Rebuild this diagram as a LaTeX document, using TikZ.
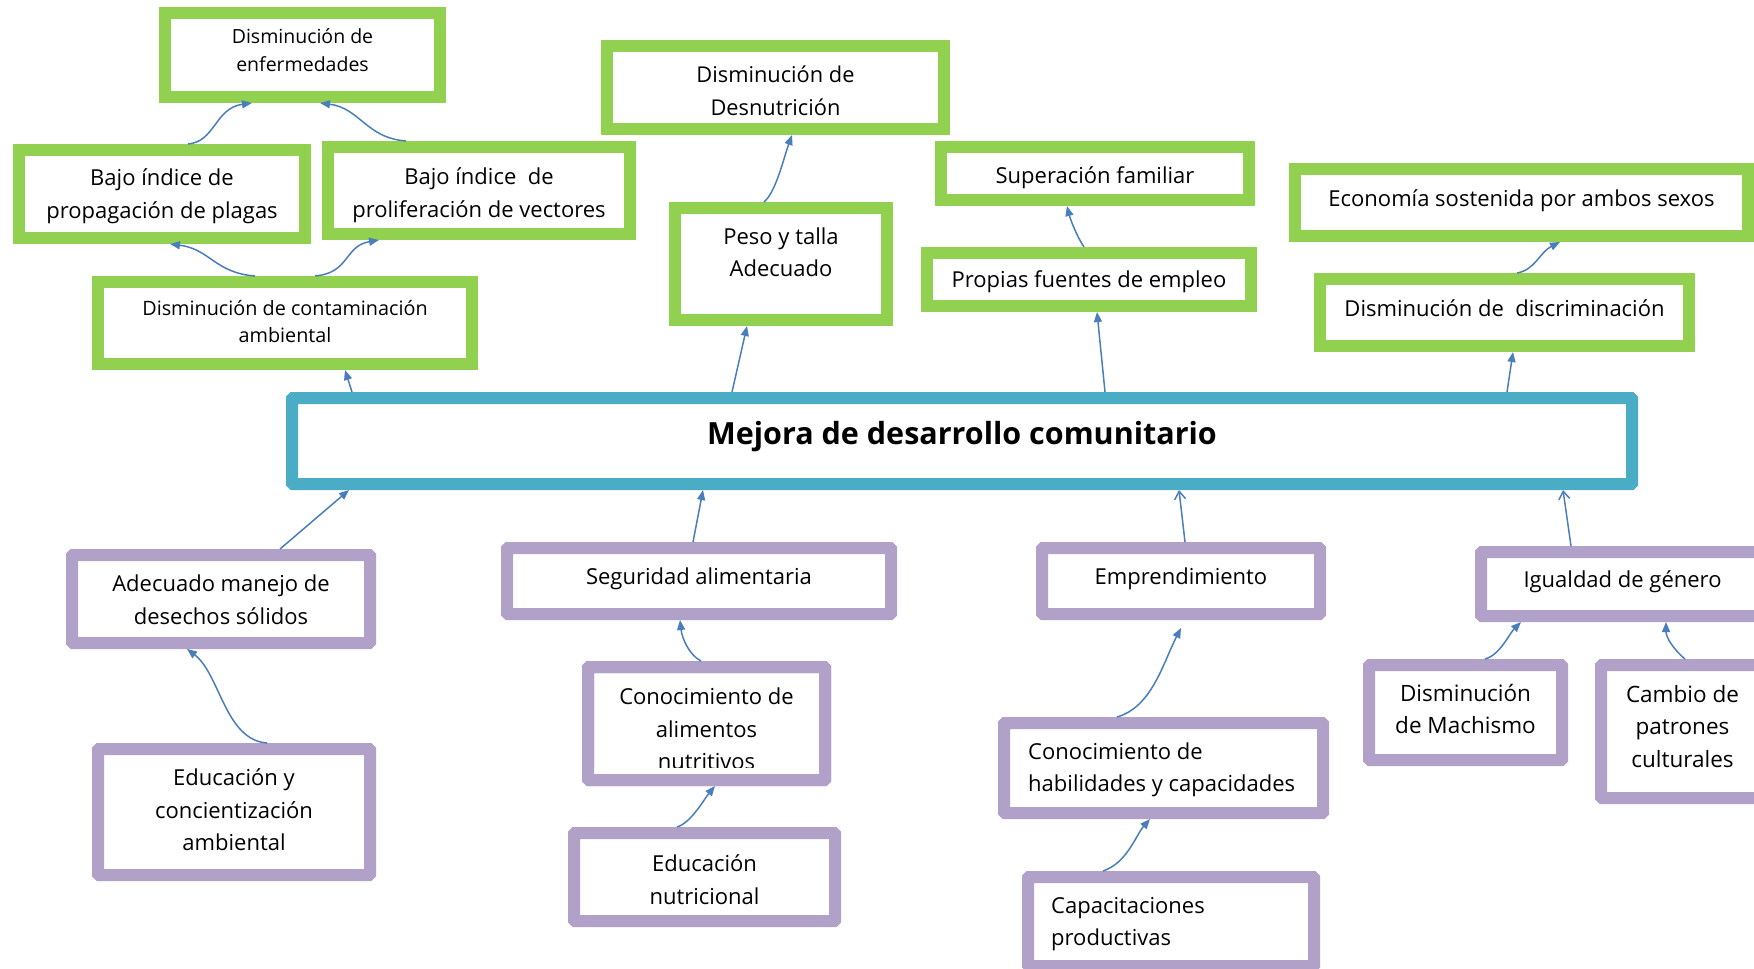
\documentclass[tikz,border=0pt]{standalone}
\usepackage{fontspec}
\setmainfont{Open Sans}
\usetikzlibrary{arrows.meta,calc}
\definecolor{gr}{HTML}{92D050}
\definecolor{pu}{HTML}{B1A0C7}
\definecolor{bl}{HTML}{4BACC6}
\definecolor{ar}{HTML}{4A7EBB}
\tikzset{
  box/.style={line width=12pt, fill=white, inner sep=0pt},
  gbox/.style={box, draw=gr},
  pbox/.style={box, draw=pu, rounded corners=1pt},
  cbox/.style={box, draw=bl, rounded corners=1pt},
  t/.style={font=\fontsize{22pt}{32.5pt}\selectfont, align=center, inner sep=0pt},
  arr/.style={draw=ar, line width=1.5pt, -{Triangle[length=10pt,width=8pt]}},
  barb/.style={draw=ar, line width=1.5pt, -{Straight Barb[length=8pt,width=11pt]}}
}
% #1 box style, #2 width, #3 height, #4 name, #5 centre, #6 text shift, #7 text style, #8 text
\newcommand{\mkbox}[8]{%
  \node[#1, minimum width=#2pt, minimum height=#3pt] (#4) at (#5) {};
  \node[t, #7] (#4t) at ($(#4.center)+(0,#6)$) {#8};}
\begin{document}
\begin{tikzpicture}[x=1pt,y=-1pt]
\useasboundingbox (0,0) rectangle (1754,969);
% green boxes (top)
\mkbox{gbox}{275}{84}{enf}{302.5,55}{-4.5}{font=\fontsize{19.5pt}{28pt}\selectfont}{Disminución de\\enfermedades}
\mkbox{gbox}{286}{88}{prop}{162,194}{2}{}{Bajo índice de\\propagación de plagas}
\mkbox{gbox}{302}{87}{prol}{479,190.5}{4.5}{}{Bajo índice~ de\\proliferación de vectores}
\mkbox{gbox}{374}{82}{cont}{285,323}{-1}{font=\fontsize{19.8pt}{27pt}\selectfont}{Disminución de contaminación\\ambiental}
\mkbox{gbox}{337}{83}{desn}{775.5,87.5}{3.4}{font=\fontsize{21.8pt}{32.5pt}\selectfont}{Disminución de\\Desnutrición}
\mkbox{gbox}{212}{112}{peso}{781,264}{-12}{}{Peso y talla\\Adecuado}
\mkbox{gbox}{308}{53}{sup}{1095,173.5}{4.5}{}{Superación familiar}
\mkbox{gbox}{324}{53}{fue}{1089,279.5}{2}{}{Propias fuentes de empleo}
\mkbox{gbox}{453}{67}{eco}{1521.5,202.5}{-2}{}{Economía sostenida por ambos sexos}
\mkbox{gbox}{369}{67}{disc}{1504.5,312.5}{-4.5}{}{Disminución de~ discriminación}
% central
\mkbox{cbox}{1340}{86}{cen}{962,441}{-4.5}{font=\fontsize{30.5pt}{34pt}\selectfont\bfseries}{Mejora de desarrollo comunitario}
% purple boxes (bottom)
\mkbox{pbox}{298}{88}{ade}{221,599}{0.5}{}{Adecuado manejo de\\desechos sólidos}
\mkbox{pbox}{272}{126}{edam}{234,812}{-2}{}{Educación y\\concientización\\ambiental}
\mkbox{pbox}{384}{66}{seg}{699,581}{-2}{}{Seguridad alimentaria}
\mkbox{pbox}{237}{113}{ca}{706.5,723.5}{5.5}{}{Conocimiento de\\alimentos\\nutritivos}
\fill[white] ($(ca.south west)+(12,-18)$) rectangle ($(ca.south east)+(-12,-12)$);
\draw[pu, line width=12pt, rounded corners=1pt] ($(ca.north west)+(6,6)$) rectangle ($(ca.south east)+(-6,-6)$);
\mkbox{pbox}{261}{88}{ednu}{704.5,877}{2.5}{}{Educación\\nutricional}
\mkbox{pbox}{278}{66}{emp}{1181,581}{-2}{}{Emprendimiento}
\node[pbox, minimum width=319pt, minimum height=90pt] (hab) at (1163.5,768) {};
\node[t, align=left, anchor=west] (habt) at ($(hab.west)+(30,2)$) {Conocimiento de\\habilidades y capacidades};
\node[pbox, minimum width=286pt, minimum height=89pt] (capa) at (1171,921.5) {};
\node[t, align=left, anchor=west] (capat) at ($(capa.west)+(29,2.5)$) {Capacitaciones\\productivas};
\mkbox{pbox}{283}{64}{igu}{1622.5,584}{-2}{}{Igualdad de género}
\mkbox{pbox}{193}{95}{mach}{1465.5,712.5}{-3.5}{font=\fontsize{22.5pt}{32.5pt}\selectfont}{Disminución\\de Machismo}
\mkbox{pbox}{163}{133}{camb}{1682.5,731.5}{-5}{font=\fontsize{22.5pt}{32.5pt}\selectfont}{Cambio de\\patrones\\culturales}
% connectors top
\draw[arr] ($(prop.north)+(26,0)$) .. controls +(27,-2) and +(-37,5) .. ($(enf.south)+(-50.5,0)$);
\draw[arr] ($(prol.north)+(-73,0)$) .. controls +(-40,-3) and +(40,5) .. ($(enf.south)+(17.5,0)$);
\draw[arr] ($(cont.north)+(-30,0)$) .. controls +(-40,-3) and +(40,5) .. ($(prop.south)+(8,0)$);
\draw[arr] ($(cont.north)+(30,0)$) .. controls +(35,-3) and +(-35,6) .. ($(prol.south)+(-100,0)$);
\draw[arr] ($(cen.north)+(-610,0)$) -- ($(cont.south)+(60,0)$);
\draw[arr] ($(peso.north)+(-17,0)$) .. controls +(12,-10) and +(-8,22) .. ($(desn.south)+(16.5,0)$);
\draw[arr] ($(cen.north)+(-230,0)$) -- ($(peso.south)+(-34,0)$);
\draw[arr] ($(fue.north)+(-5,0)$) .. controls +(-8,-12) and +(3,12) .. ($(sup.south)+(-28,0)$);
\draw[arr] ($(cen.north)+(143,0)$) -- ($(fue.south)+(8,0)$);
\draw[arr] ($(disc.north)+(12.5,0)$) .. controls +(18,-3) and +(-20,10) .. ($(eco.south)+(38.5,0)$);
\draw[arr] ($(cen.north)+(545,0)$) -- ($(disc.south)+(8.5,0)$);
% connectors bottom
\draw[arr] ($(ade.north)+(59,0)$) -- ($(cen.south)+(-613,0)$);
\draw[arr] ($(seg.north)+(-6,0)$) -- ($(cen.south)+(-259,0)$);
\draw[barb] ($(emp.north)+(4,0)$) -- ($(cen.south)+(217,0)$);
\draw[barb] ($(igu.north)+(-51.5,0)$) -- ($(cen.south)+(601,0)$);
\draw[arr] ($(edam.north)+(33,0)$) .. controls +(-42,-3) and +(33,25) .. ($(ade.south)+(-34,0)$);
\draw[arr] ($(ca.north)+(-5.5,0)$) .. controls +(-12,-6) and +(2,18) .. ($(seg.south)+(-19,0)$);
\draw[arr] ($(ednu.north)+(-27.5,0)$) .. controls +(14,-4) and +(-10,12) .. ($(ca.south)+(8.5,0)$);
\draw[arr] ($(hab.north)+(-46.5,0)$) .. controls +(35,-10) and +(-18,35) .. ($(emp.south)+(0,8)$);
\draw[arr] ($(capa.north)+(-68,0)$) .. controls +(24,-8) and +(-14,16) .. ($(hab.south)+(-13.5,0)$);
\draw[arr] ($(mach.north)+(19.5,0)$) .. controls +(15,-4) and +(-12,12) .. ($(igu.south)+(-101.5,0)$);
\draw[arr] ($(camb.north)+(2.5,0)$) .. controls +(-12,-10) and +(0,15) .. ($(igu.south)+(43.5,0)$);
\end{tikzpicture}
\end{document}
